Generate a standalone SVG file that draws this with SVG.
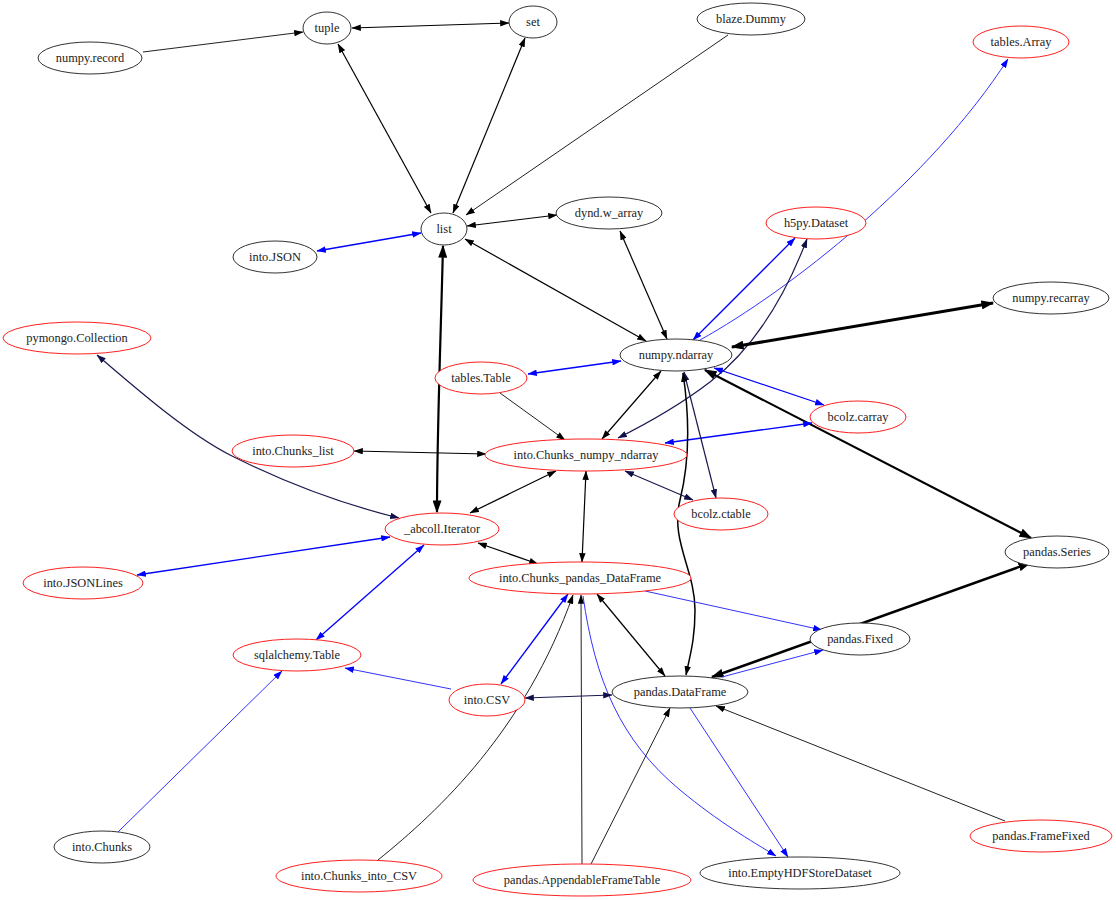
<svg xmlns="http://www.w3.org/2000/svg" width="1116" height="900" viewBox="0 0 1116 900">
<defs>
<marker id="ak" viewBox="0 0 10 7" refX="9.5" refY="3.5" markerWidth="9.5" markerHeight="6.5" markerUnits="userSpaceOnUse" orient="auto-start-reverse"><path d="M0,0L10,3.5L0,7z" fill="#000"/></marker>
<marker id="ab" viewBox="0 0 10 7" refX="9.5" refY="3.5" markerWidth="9.5" markerHeight="6.5" markerUnits="userSpaceOnUse" orient="auto-start-reverse"><path d="M0,0L10,3.5L0,7z" fill="#0000ff"/></marker>
<marker id="an" viewBox="0 0 10 7" refX="9.5" refY="3.5" markerWidth="9.5" markerHeight="6.5" markerUnits="userSpaceOnUse" orient="auto-start-reverse"><path d="M0,0L10,3.5L0,7z" fill="#10104a"/></marker>
<marker id="at" viewBox="0 0 10 7" refX="9" refY="3.5" markerWidth="13" markerHeight="9" markerUnits="userSpaceOnUse" orient="auto-start-reverse"><path d="M0,0L10,3.5L0,7z" fill="#000"/></marker>
</defs>
<style>
.n{fill:#fff;stroke:#333;stroke-width:1}
.r{fill:#fff;stroke:#ff2020;stroke-width:1}
#edges path{fill:none}
.k{stroke:#000;stroke-width:1.2}
.kt{stroke:#222;stroke-width:1}
.b{stroke:#0000ff;stroke-width:1.3}
.bt{stroke:#3333ff;stroke-width:1}
.v{stroke:#1a1a50;stroke-width:1.2}
.K2{stroke:#000;stroke-width:2.2}
.K3{stroke:#000;stroke-width:3}
.kk{marker-start:url(#ak);marker-end:url(#ak)}
.ke{marker-end:url(#ak)}
.bb{marker-start:url(#ab);marker-end:url(#ab)}
.be{marker-end:url(#ab)}
.nn{marker-start:url(#an);marker-end:url(#an)}
.tt{marker-start:url(#at);marker-end:url(#at)}
</style>
<rect width="1116" height="900" fill="#fff"/>
<g id="edges">
<path class="kt ke" d="M143,52 L303,32"/>
<path class="k kk" d="M352,28 L509,23"/>
<path class="k kk" d="M338,44 L431,213"/>
<path class="k kk" d="M525,38 L453,213"/>
<path class="kt ke" d="M728,35 L466,215"/>
<path class="k kk" d="M467,226 L557,215"/>
<path class="b bb" d="M421,233 L317,251"/>
<path class="K2 tt" d="M443,246 C441,330 437,430 437,512"/>
<path class="k kk" d="M465,239 L646,341"/>
<path class="k kk" d="M620,231 L667,339"/>
<path class="b bb" d="M795,238 L693,340"/>
<path class="bt be" d="M700,340 C790,290 930,180 1008,59"/>
<path class="v nn" d="M807,239 C780,310 745,355 710,382 C680,405 650,422 618,438"/>
<path class="K3 tt" d="M993,303 L732,347"/>
<path class="b bb" d="M528,374 L621,361"/>
<path class="kt ke" d="M500,393 L565,440"/>
<path class="k kk" d="M661,371 L602,439"/>
<path class="b bb" d="M714,368 L824,405"/>
<path class="K2 tt" d="M705,370 L1031,538"/>
<path class="b bb" d="M665,443 L812,423"/>
<path class="v nn" d="M684,372 L716,498"/>
<path class="k kk" style="stroke-width:1.5" d="M683,373 C690,420 690,460 680,500 C670,540 695,570 695,610 C695,640 690,655 686,675"/>
<path class="k kk" d="M354,451 L486,454"/>
<path class="v nn" d="M97,355 C140,392 190,435 232,456 C290,485 350,506 399,518"/>
<path class="b bb" d="M137,575 L390,537"/>
<path class="k kk" d="M556,471 L470,513"/>
<path class="k kk" d="M586,471 L582,562"/>
<path class="v nn" d="M625,471 L693,500"/>
<path class="k kk" d="M478,543 L538,564"/>
<path class="b bb" d="M424,545 L316,640"/>
<path class="K2 tt" style="stroke-width:2.5" d="M1030,563 L712,677"/>
<path class="bt be" d="M645,591 L822,630"/>
<path class="bt be" d="M722,677 L823,650"/>
<path class="b bb" d="M568,594 L501,684"/>
<path class="kt ke" d="M378,860 C440,810 525,730 573,595"/>
<path class="kt ke" d="M582,864 L581,595"/>
<path class="bt be" d="M583,596 C595,680 620,740 680,790 C720,823 750,840 776,856"/>
<path class="k kk" d="M597,594 L665,676"/>
<path class="bt be" d="M451,689 L345,668"/>
<path class="v nn" d="M525,698 L612,695"/>
<path class="bt be" d="M118,832 L282,671"/>
<path class="kt ke" d="M591,864 L670,708"/>
<path class="bt be" d="M690,708 L788,857"/>
<path class="kt ke" d="M1005,821 L716,706"/>
</g>
<g font-family="'Liberation Serif', 'Times New Roman', serif" font-size="12.4" fill="#222" text-anchor="middle">
<g id="n-tuple"><ellipse class="n" cx="327" cy="28" rx="24" ry="16"/><text x="327" y="32">tuple</text></g>
<g id="n-set"><ellipse class="n" cx="533" cy="22" rx="24" ry="16"/><text x="533" y="26">set</text></g>
<g id="n-numpy-record"><ellipse class="n" cx="90" cy="58" rx="52" ry="16"/><text x="90" y="62">numpy.record</text></g>
<g id="n-blaze-dummy"><ellipse class="n" cx="751" cy="19" rx="54" ry="16"/><text x="751" y="23">blaze.Dummy</text></g>
<g id="n-tables-array"><ellipse class="r" cx="1021" cy="42" rx="48" ry="16"/><text x="1021" y="46">tables.Array</text></g>
<g id="n-list"><ellipse class="n" cx="444" cy="229" rx="23" ry="16"/><text x="444" y="233">list</text></g>
<g id="n-dynd"><ellipse class="n" cx="609" cy="213" rx="53" ry="16"/><text x="609" y="217">dynd.w_array</text></g>
<g id="n-into-json"><ellipse class="n" cx="275" cy="257" rx="42" ry="16"/><text x="275" y="261">into.JSON</text></g>
<g id="n-h5py"><ellipse class="r" cx="816" cy="223" rx="50" ry="16"/><text x="816" y="227">h5py.Dataset</text></g>
<g id="n-recarray"><ellipse class="n" cx="1051" cy="298" rx="58" ry="16"/><text x="1051" y="302">numpy.recarray</text></g>
<g id="n-ndarray"><ellipse class="n" cx="676" cy="355" rx="56" ry="16"/><text x="676" y="359">numpy.ndarray</text></g>
<g id="n-pymongo"><ellipse class="r" cx="77" cy="338" rx="74" ry="16"/><text x="77" y="342">pymongo.Collection</text></g>
<g id="n-tables-table"><ellipse class="r" cx="481" cy="378" rx="46" ry="16"/><text x="481" y="382">tables.Table</text></g>
<g id="n-carray"><ellipse class="r" cx="858" cy="417" rx="48" ry="16"/><text x="858" y="421">bcolz.carray</text></g>
<g id="n-chunks-list"><ellipse class="r" cx="293" cy="451" rx="61" ry="16"/><text x="293" y="455">into.Chunks_list</text></g>
<g id="n-chunks-ndarray"><ellipse class="r" cx="586" cy="455" rx="101" ry="16"/><text x="586" y="459">into.Chunks_numpy_ndarray</text></g>
<g id="n-ctable"><ellipse class="r" cx="721" cy="514" rx="47" ry="16"/><text x="721" y="518">bcolz.ctable</text></g>
<g id="n-iterator"><ellipse class="r" cx="442" cy="529" rx="57" ry="16"/><text x="442" y="533">_abcoll.Iterator</text></g>
<g id="n-series"><ellipse class="n" cx="1057" cy="552" rx="52" ry="16"/><text x="1057" y="556">pandas.Series</text></g>
<g id="n-jsonlines"><ellipse class="r" cx="83" cy="583" rx="60" ry="16"/><text x="83" y="587">into.JSONLines</text></g>
<g id="n-chunks-df"><ellipse class="r" cx="580" cy="578" rx="111" ry="16"/><text x="580" y="582">into.Chunks_pandas_DataFrame</text></g>
<g id="n-fixed"><ellipse class="n" cx="860" cy="639" rx="50" ry="16"/><text x="860" y="643">pandas.Fixed</text></g>
<g id="n-sqlalchemy"><ellipse class="r" cx="297" cy="655" rx="64" ry="16"/><text x="297" y="659">sqlalchemy.Table</text></g>
<g id="n-csv"><ellipse class="r" cx="487" cy="700" rx="38" ry="16"/><text x="487" y="704">into.CSV</text></g>
<g id="n-dataframe"><ellipse class="n" cx="680" cy="692" rx="68" ry="16"/><text x="680" y="696">pandas.DataFrame</text></g>
<g id="n-chunks"><ellipse class="n" cx="102" cy="847" rx="48" ry="16"/><text x="102" y="851">into.Chunks</text></g>
<g id="n-framefixed"><ellipse class="r" cx="1041" cy="836" rx="71" ry="16"/><text x="1041" y="840">pandas.FrameFixed</text></g>
<g id="n-chunks-csv"><ellipse class="r" cx="359" cy="876" rx="83" ry="16"/><text x="359" y="880">into.Chunks_into_CSV</text></g>
<g id="n-appendable"><ellipse class="r" cx="582" cy="880" rx="109" ry="16"/><text x="582" y="884">pandas.AppendableFrameTable</text></g>
<g id="n-emptyhdf"><ellipse class="n" cx="800" cy="873" rx="100" ry="16"/><text x="800" y="877">into.EmptyHDFStoreDataset</text></g>
</g>
</svg>
